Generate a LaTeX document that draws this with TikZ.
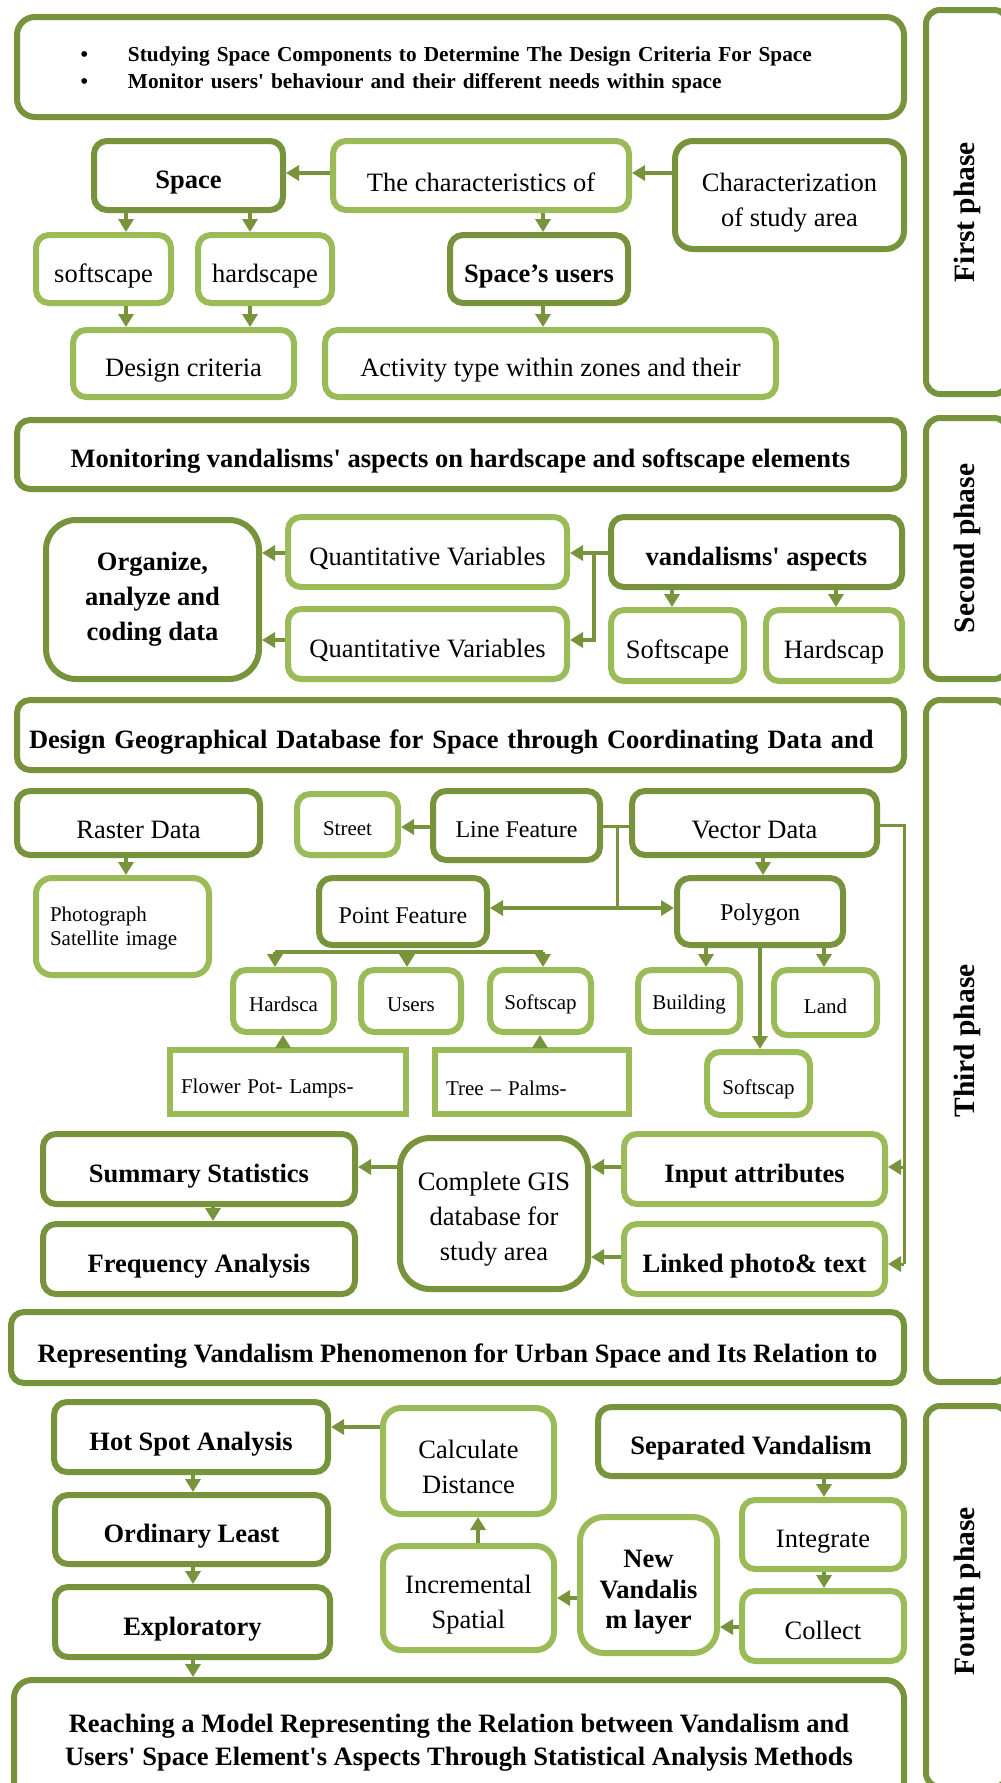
\documentclass[tikz,border=0pt]{standalone}
\usepackage{fontspec}
\setmainfont{Liberation Serif}
\usetikzlibrary{arrows.meta}

\definecolor{oliveDark}{HTML}{77933C}
\definecolor{oliveLight}{HTML}{9BBB59}

\newcommand{\boxFont}{\fontsize{26.5}{35}\selectfont}
\newcommand{\midFont}{\fontsize{24}{29}\selectfont}
\newcommand{\smallFont}{\fontsize{21}{24}\selectfont}
\newcommand{\listFont}{\fontsize{21.3}{27}\selectfont}
\newcommand{\phaseFont}{\fontsize{29.5}{34}\selectfont\bfseries}
\newcommand{\aposStraight}{\textquotesingle}
\newcommand{\dropHeight}{32pt}
\newcommand{\dropStrut}[1]{\rule{0pt}{#1}}

\begin{document}
\begin{tikzpicture}
[x=1pt,y=-1pt,>={Triangle[length=13pt,width=15pt]},
  textDrop/.code={\renewcommand{\dropHeight}{#1}},
  darkBox/.style={draw=oliveDark,line width=6pt,rounded corners=13pt,fill=white,
    align=center,inner sep=2pt,font=\boxFont,textDrop=32pt,
    execute at begin node={\rule{0pt}{\dropHeight}}},
  lightBox/.style={darkBox,draw=oliveLight},
  plainRect/.style={lightBox,rounded corners=0pt},
  boldText/.style={font=\boxFont\bfseries},
  midText/.style={font=\midFont,textDrop=23.5pt},
  smallText/.style={font=\smallFont,textDrop=21.5pt},
  boxSize/.style 2 args={minimum width=#1,minimum height=#2},
  phaseBox/.style={darkBox,rotate=90,rounded corners=14pt,font=\phaseFont,textDrop=0pt},
  arrowDecorate/.style={draw=oliveDark,line width=4pt,->},
  bothDecorate/.style={draw=oliveDark,line width=4pt,<->},
  thinArrow/.style={draw=oliveDark,line width=3pt,->},
  lineDecorate/.style={draw=oliveDark,line width=3pt}]

\useasboundingbox (0,0) rectangle (1001,1783);
\fill[white] (0,0) rectangle (1001,1783);

%% phase frames on the right
\foreach \phaseName/\yy/\len/\phaseText in
  {phaseOne/202/384/First phase\hspace*{20pt}, phaseTwo/548.5/261/Second phase,
   phaseThree/1041/682/Third phase, phaseFour/1596.5/381/\hspace*{11pt}Fourth phase}
{
  \node[phaseBox,boxSize={\len}{82}] (\phaseName) at (967,\yy) {\phaseText};
}

%% first phase
\node[darkBox,boxSize={887}{100},rounded corners=18pt,font=\listFont\bfseries,textDrop=0pt,
  align=left,text width=760pt] (bulletsBox) at (460.5,67)
  {\dropStrut{20.5pt}\makebox[47.5pt][l]{\textbullet}Studying Space Components to Determine The Design Criteria For Space\\
   \makebox[47.5pt][l]{\textbullet}Monitor users\aposStraight{} behaviour and their different needs within space};
\node[darkBox,boldText,boxSize={189}{69}] (spaceBox) at (188.5,175.5) {Space};
\node[lightBox,boxSize={296}{69}] (characterBox) at (481,175.5) {The characteristics of};
\node[darkBox,boxSize={229}{108},rounded corners=18pt,textDrop=0pt] (studyArea) at (789.5,195)
  {\dropStrut{34pt}Characterization\\of study area};
\node[lightBox,boxSize={135}{68}] (softscapeA) at (103.5,269) {softscape};
\node[lightBox,boxSize={134}{68}] (hardscapeA) at (265,269) {hardscape};
\node[darkBox,boldText,boxSize={178}{68}] (spaceUsers) at (539,269) {Space’s users};
\node[lightBox,boxSize={221}{67}] (designCriteria) at (183.5,363.5) {Design criteria};
\node[lightBox,boxSize={451}{67}] (activityType) at (550.5,363.5) {Activity type within zones and their};

%% second phase
\node[darkBox,boldText,boxSize={887}{69}] (monitorBox) at (460.5,454.5)
  {Monitoring vandalisms\aposStraight{} aspects on hardscape and softscape elements};
\node[darkBox,boldText,boxSize={213}{159},rounded corners=30pt,textDrop=0pt] (organizeBox) at (152.5,599.5)
  {Organize,\\analyze and\\coding data};
\node[lightBox,boxSize={279}{70}] (quantA) at (427.5,552) {Quantitative Variables};
\node[lightBox,boxSize={279}{70}] (quantB) at (427.5,644) {Quantitative Variables};
\node[darkBox,boldText,boxSize={291}{70}] (aspectsBox) at (756.5,552) {vandalisms\aposStraight{} aspects};
\node[lightBox,boxSize={133}{71}] (softscapeB) at (677.5,645.5) {Softscape};
\node[lightBox,boxSize={136}{71}] (hardscapeB) at (834,645.5) {Hardscap};

%% third phase
\node[darkBox,boldText,boxSize={887}{70},align=left,text width=863pt] (gisTitle) at (460.5,735)
  {Design Geographical Database for Space through Coordinating Data and};
\node[darkBox,boxSize={243}{64}] (rasterData) at (138.5,823) {Raster Data};
\node[lightBox,smallText,boxSize={101}{61}] (streetBox) at (347.5,824.5) {Street};
\node[darkBox,midText,boxSize={167}{69}] (lineFeature) at (516.5,825.5) {Line Feature};
\node[darkBox,boxSize={245}{64}] (vectorData) at (754.5,823) {Vector Data};
\node[lightBox,smallText,boxSize={173}{97},rounded corners=16pt,align=left,text width=145pt,textDrop=0pt]
  (photoBox) at (122.5,926.5) {\dropStrut{19pt}Photograph\\Satellite image};
\node[darkBox,midText,boxSize={168}{67}] (pointFeature) at (403,911.5) {Point Feature};
\node[darkBox,midText,boxSize={166}{67}] (polygonBox) at (760,911.5) {Polygon};
\node[lightBox,smallText,boxSize={101}{62}] (hardscaC) at (283.5,1001) {Hardsca};
\node[lightBox,smallText,boxSize={100}{62}] (usersBox) at (411,1001) {Users};
\node[lightBox,smallText,boxSize={101}{62}] (softscapC) at (540.5,1001) {Softscap};
\node[lightBox,smallText,boxSize={102}{62}] (buildingBox) at (689,1001) {Building};
\node[lightBox,smallText,boxSize={103}{65}] (landBox) at (825.5,1002.5) {Land};
\node[lightBox,smallText,boxSize={103}{63},textDrop=27pt] (softscapD) at (758.5,1083.5) {Softscap};
\node[plainRect,smallText,boxSize={236}{64},align=left,text width=214pt,textDrop=27pt] (flowerBox)
  at (288,1082) {Flower Pot- Lamps-};
\node[plainRect,smallText,boxSize={194}{64},align=left,text width=172pt,textDrop=27pt] (treeBox)
  at (532,1082) {Tree -- Palms-};
\node[darkBox,boldText,boxSize={312}{70}] (summaryBox) at (199,1169) {Summary Statistics};
\node[darkBox,boldText,boxSize={312}{70}] (frequencyBox) at (199,1259) {Frequency Analysis};
\node[darkBox,boxSize={188}{151},rounded corners=30pt,textDrop=0pt] (gisBox) at (494,1213.5)
  {\dropStrut{30.5pt}Complete GIS\\database for\\study area};
\node[lightBox,boldText,boxSize={261}{70}] (inputBox) at (754.5,1169) {Input attributes};
\node[lightBox,boldText,boxSize={261}{70}] (linkedBox) at (754.5,1259) {Linked photo\& text};
\node[darkBox,boldText,boxSize={893}{71},textDrop=36pt] (representBox) at (457.5,1347.5)
  {Representing Vandalism Phenomenon for Urban Space and Its Relation to};

%% fourth phase
\node[darkBox,boldText,boxSize={274}{70}] (hotSpot) at (191,1437) {Hot Spot Analysis};
\node[darkBox,boldText,boxSize={273}{69}] (ordinaryBox) at (191.5,1529.5) {Ordinary Least};
\node[darkBox,boldText,boxSize={275}{70}] (exploratoryBox) at (192.5,1622) {Exploratory};
\node[darkBox,boxSize={890}{125},rounded corners=18pt,textDrop=0pt,
  font=\fontsize{26.5}{33}\selectfont\bfseries] (reachingBox) at (459,1742.5)
  {Reaching a Model Representing the Relation between Vandalism and\\
   Users\aposStraight{} Space Element\aposStraight{}s Aspects Through Statistical Analysis Methods};
\node[lightBox,boxSize={171}{106},rounded corners=18pt,textDrop=0pt] (calcDistance) at (468.5,1461)
  {\dropStrut{29.5pt}Calculate\\Distance};
\node[darkBox,boldText,boxSize={306}{69}] (separatedBox) at (751,1441.5) {Separated Vandalism};
\node[lightBox,boxSize={162}{69}] (integrateBox) at (823,1534.5) {Integrate};
\node[lightBox,boxSize={162}{70},textDrop=28pt] (collectBox) at (823,1626) {Collect};
\node[lightBox,boxSize={137}{136},rounded corners=24pt,textDrop=0pt,
  font=\fontsize{26.5}{30.5}\selectfont\bfseries] (newLayer) at (648.5,1585)
  {\dropStrut{32.5pt}New\\Vandalis\\m layer};
\node[lightBox,boxSize={171}{104},rounded corners=18pt,textDrop=0pt] (incrementalBox) at (468.5,1598)
  {\dropStrut{32.5pt}Incremental\\Spatial};

%% downward arrows
\foreach \startnode/\endnode/\xx in
  {spaceBox/softscapeA/126, spaceBox/hardscapeA/250, softscapeA/designCriteria/126,
   hardscapeA/designCriteria/250, characterBox/spaceUsers/543, spaceUsers/activityType/543,
   aspectsBox/softscapeB/672, aspectsBox/hardscapeB/836, rasterData/photoBox/126,
   vectorData/polygonBox/763, polygonBox/buildingBox/706, polygonBox/landBox/824,
   polygonBox/softscapD/760, summaryBox/frequencyBox/213, hotSpot/ordinaryBox/193,
   ordinaryBox/exploratoryBox/193, exploratoryBox/reachingBox/193,
   separatedBox/integrateBox/824, integrateBox/collectBox/824}
{
  \draw[arrowDecorate] (\xx,0 |- \startnode.south) -- (\xx,0 |- \endnode.north);
}
%% upward arrows
\foreach \startnode/\endnode/\xx in
  {flowerBox/hardscaC/283, treeBox/softscapC/540, incrementalBox/calcDistance/478}
{
  \draw[arrowDecorate] (\xx,0 |- \startnode.north) -- (\xx,0 |- \endnode.south);
}
%% leftward arrows
\foreach \startnode/\endnode/\yy in
  {characterBox/spaceBox/173, studyArea/characterBox/173, aspectsBox/quantA/553,
   quantA/organizeBox/553, quantB/organizeBox/640, lineFeature/streetBox/827,
   gisBox/summaryBox/1167, inputBox/gisBox/1167, linkedBox/gisBox/1257,
   calcDistance/hotSpot/1427, collectBox/newLayer/1627, newLayer/incrementalBox/1598}
{
  \draw[arrowDecorate] (\startnode.west |- 0,\yy) -- (\endnode.east |- 0,\yy);
}

%% branches
\coordinate (quantFork) at (594,553);
\draw[arrowDecorate] (quantFork) |- (quantB.east |- 0,640);

\coordinate (lineJoin) at (617,826);
\coordinate (featureJoin) at (617,908);
\draw[lineDecorate] (lineFeature.east |- lineJoin) -- (vectorData.west |- lineJoin);
\draw[lineDecorate] (lineJoin) -- (featureJoin);
\draw[bothDecorate] (pointFeature.east |- featureJoin) -- (polygonBox.west |- featureJoin);

\coordinate (barLeft) at (275,952);
\coordinate (barMid) at (407,952);
\coordinate (barRight) at (543,952);
\draw[draw=oliveDark,line width=4pt] (barLeft) -- (barRight);
\foreach \barEnd/\endnode in {barLeft/hardscaC, barMid/usersBox, barRight/softscapC}
{
  \draw[arrowDecorate] (\barEnd) -- (\endnode.north -| \barEnd);
}

\coordinate (vectorCorner) at (904,825);
\coordinate (bracketInput) at (904,1167);
\coordinate (bracketLinked) at (904,1264);
\draw[lineDecorate] (vectorData.east |- vectorCorner) -- (vectorCorner) -- (bracketLinked);
\draw[thinArrow] (bracketInput) -- (inputBox.east |- bracketInput);
\draw[thinArrow] (bracketLinked) -- (linkedBox.east |- bracketLinked);
\end{tikzpicture}
\end{document}
